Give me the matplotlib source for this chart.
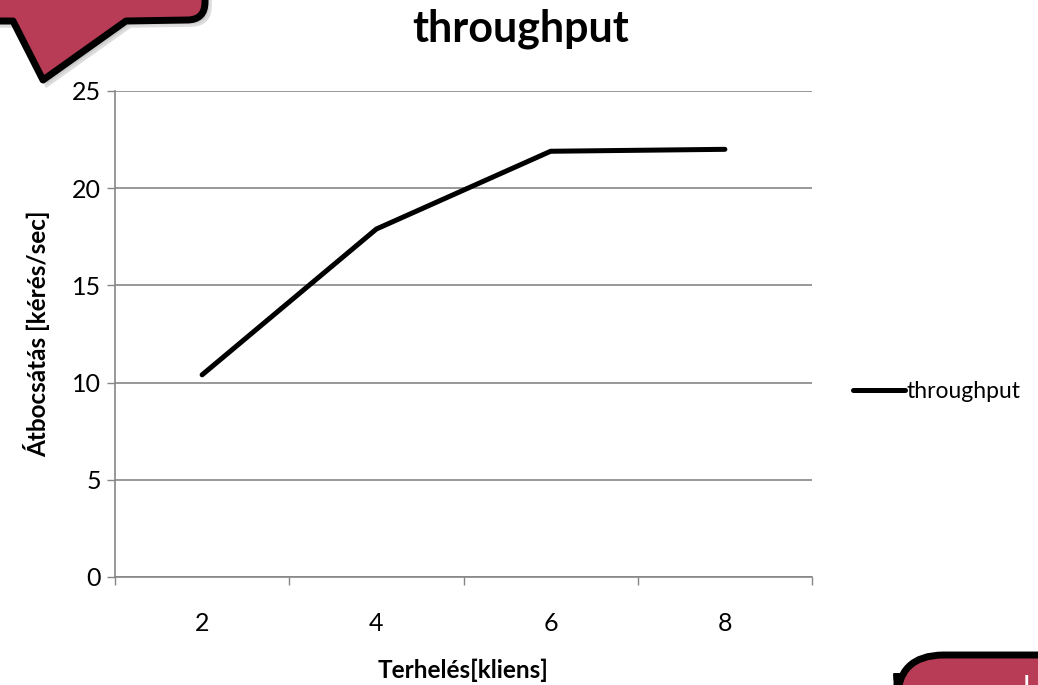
import numpy as np
import matplotlib
matplotlib.use("Agg")
import matplotlib.pyplot as plt
from matplotlib.patches import PathPatch, FancyBboxPatch
from matplotlib.path import Path

plt.rcParams["font.family"] = ["Lato", "DejaVu Sans"]

clients = ["2", "4", "6", "8"]
throughput = [10.4, 17.9, 21.9, 22.0]

W, H = 1038, 685
fig = plt.figure(figsize=(W / 100, H / 100), dpi=100)


def fx(x, y):
    return x / W, 1 - y / H


ax = fig.add_axes([115 / W, 1 - 577 / H, (812 - 115) / W, (577 - 91) / H])
pos = np.arange(len(clients))
ax.plot(pos, throughput, color="black", lw=3.6, solid_capstyle="round",
        solid_joinstyle="miter", label="throughput", zorder=3)
ax.set_xlim(-0.5, len(clients) - 0.5)
ax.set_ylim(0, 25)
ax.set_yticks(np.arange(0, 26, 5))
ax.set_xticks(pos)
ax.set_xticklabels(clients)
ax.set_xticks(np.arange(-0.5, len(clients), 1), minor=True)
ax.tick_params(axis="x", which="major", length=0, pad=25, labelsize=18)
ax.tick_params(axis="x", which="minor", length=6, color="#868686", width=1)
ax.tick_params(axis="y", length=6, color="#868686", width=1, labelsize=18, pad=4)
ax.yaxis.grid(True, color="#868686", lw=1.2)
ax.set_axisbelow(True)
for s in ["top", "right"]:
    ax.spines[s].set_visible(False)
for s in ["left", "bottom"]:
    ax.spines[s].set_color("#868686")
    ax.spines[s].set_linewidth(1.2)

ax.set_xlabel("Terhelés[kliens]", fontsize=17.5, fontweight="bold", labelpad=17)
ax.set_ylabel("Átbocsátás [kérés/sec]", fontsize=17.5, fontweight="bold", labelpad=16)
fig.text(521 / W, 1 - 29 / H, "throughput", fontsize=31, fontweight="bold",
         ha="center", va="center")

ax.legend(loc="center left", bbox_to_anchor=(1 + 41 / 697, (577 - 392) / 486),
          frameon=False, fontsize=16.5, borderaxespad=0, borderpad=0,
          handlelength=2.25, handletextpad=0.08)

# speech bubble in the upper-left corner
red = "#B83C56"
verts = [(-20, -20), (205, -20), (205, 2), (205, 20), (187, 20),
         (126, 21), (43, 80), (13, 21), (-20, 21), (-20, -20)]
codes = [Path.MOVETO, Path.LINETO, Path.LINETO, Path.CURVE3, Path.CURVE3,
         Path.LINETO, Path.LINETO, Path.LINETO, Path.LINETO, Path.CLOSEPOLY]
shadow = Path([fx(x + 4, y + 4) for x, y in verts], codes)
fig.patches.append(PathPatch(shadow, transform=fig.transFigure, fc="#bbbbbb",
                             ec="#bbbbbb", lw=4, alpha=0.5, zorder=0))
bubble = Path([fx(x, y) for x, y in verts], codes)
fig.patches.append(PathPatch(bubble, transform=fig.transFigure, fc=red,
                             ec="black", lw=5, joinstyle="round", zorder=1))

# rounded box in the lower-right corner
box = FancyBboxPatch(fx(897, 720), 200 / W, 65 / H,
                     boxstyle="round,pad=0,rounding_size=0.045",
                     transform=fig.transFigure, fc=red, ec="black", lw=5,
                     mutation_aspect=W / H, zorder=1)
fig.patches.append(box)
fig.text(1026 / W, 1 - 675 / H, "l", color="white", fontsize=16,
         fontweight="bold", ha="center", va="top")

fig.savefig("out.png", dpi=100)
